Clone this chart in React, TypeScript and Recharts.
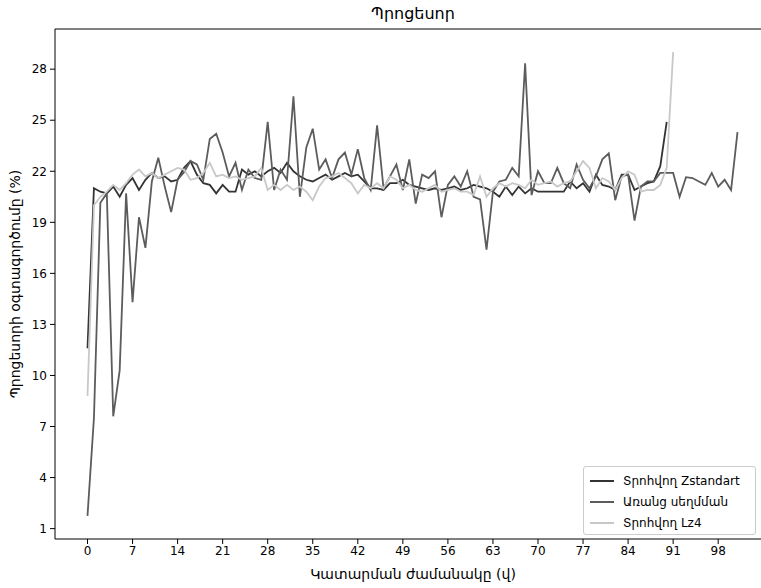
import { Line, LineChart, ReferenceLine, XAxis, YAxis } from "recharts";

// CPU usage per second
const zstdSeries = [
  11.6, 21.0, 20.8, 20.7, 21.1, 20.5, 21.2, 21.6, 20.9, 21.5,
  21.9, 21.6, 21.7, 21.4, 21.5, 22.2, 22.6, 21.8, 21.3, 21.2,
  20.7, 21.2, 20.8, 20.8, 22.1, 21.8, 22.0, 21.7, 22.0, 22.2,
  21.9, 22.5, 22.0, 21.7, 21.5, 21.4, 21.6, 21.8, 21.5, 21.7,
  21.9, 21.7, 21.8, 21.4, 21.0, 21.0, 20.9, 21.3, 21.3, 21.5,
  21.2, 21.1, 21.0, 20.9, 21.0, 20.9, 21.0, 21.1, 20.9, 21.0,
  21.2, 21.1, 21.0, 20.8, 20.5, 21.1, 20.6, 21.1, 20.7, 21.0,
  20.8, 20.8, 20.8, 20.8, 20.8, 21.4, 21.0, 21.3, 20.8, 21.8,
  21.2, 21.1, 20.9, 21.8, 21.8, 20.9, 21.1, 21.3, 21.4, 22.3,
  24.9,
];

const plainSeries = [
  1.75, 7.5, 20.15, 20.7, 7.6, 10.3, 20.7, 14.3, 19.3, 17.5,
  21.4, 22.8, 21.1, 19.6, 21.5, 21.95, 22.6, 22.4, 21.5, 23.9,
  24.2, 23.1, 21.7, 22.5, 20.9, 22.1, 21.6, 21.5, 24.9, 20.9,
  22.1, 21.5, 26.4, 20.5, 23.4, 24.5, 22.1, 22.7, 21.6, 22.7,
  23.1, 21.8, 23.3, 21.6, 20.9, 24.7, 21.0, 21.7, 22.4, 20.9,
  22.7, 20.1, 21.8, 21.6, 22.0, 19.3, 21.2, 21.7, 21.1, 22.0,
  20.5, 20.35, 17.4, 20.8, 21.4, 21.5, 22.2, 21.7, 28.35, 20.6,
  22.0, 21.3, 21.3, 22.2, 21.3, 21.0, 22.4, 21.5, 21.0, 21.7,
  22.7, 23.05, 20.3, 21.7, 21.8, 19.1, 21.1, 21.4, 21.4, 21.9,
  21.9, 21.9, 20.5, 21.65, 21.6, 21.4, 21.2, 21.9, 21.1, 21.5,
  20.9, 24.3,
];

const lz4Series = [
  8.8, 20.0, 20.5, 20.8, 21.2, 20.9, 21.3, 21.8, 22.1, 21.7,
  21.9, 21.6, 21.8, 22.0, 22.2, 22.1, 21.5, 21.6, 21.9, 22.5,
  21.7, 21.8, 21.6, 21.7, 21.5, 21.6, 21.7, 22.2, 20.9, 21.2,
  20.9, 21.2, 20.9, 21.1, 20.8, 20.3, 21.1, 21.6, 21.7, 21.9,
  21.6, 21.3, 20.7, 21.2, 21.0, 21.3, 21.0, 21.7, 21.5, 21.0,
  21.2, 20.9, 20.8, 21.0, 21.2, 20.8, 20.9, 21.0, 20.8, 20.8,
  20.6, 21.7, 20.5, 21.0, 21.3, 21.1, 21.3, 21.2, 21.0, 21.5,
  21.2, 21.3, 21.4, 21.1, 21.3, 21.4, 22.0, 22.6, 22.2, 21.0,
  21.6, 21.4, 20.9, 21.6, 22.0, 21.8, 20.8, 20.9, 20.9, 21.2,
  22.2, 29.0,
];

const xTicks = [0, 7, 14, 21, 28, 35, 42, 49, 56, 63, 70, 77, 84, 91, 98];
const yTicks = [1, 4, 7, 10, 13, 16, 19, 22, 25, 28];

const seriesNames = ["Տրոհվող Zstandart", "Առանց սեղմման", "Տրոհվող Lz4"];
const seriesColors = ["#333333", "#5c5c5c", "#c8c8c8"];

const rows = plainSeries.map((v, i) => ({
  t: i,
  zstd: zstdSeries[i],
  plain: v,
  lz4: lz4Series[i],
}));

const font = "'DejaVu Sans', sans-serif";
const yMax = 30.36;

function LegendBox() {
  return (
    <div
      style={{
        position: "absolute",
        left: 583,
        top: 466,
        width: 173,
        height: 69,
        border: "1px solid #cccccc",
        borderRadius: 3,
        background: "rgba(255,255,255,0.8)",
        fontFamily: font,
        fontSize: 12,
        color: "#000",
        boxSizing: "border-box",
        paddingTop: 3,
      }}
    >
      {seriesNames.map((name, i) => (
        <div key={name} style={{ display: "flex", alignItems: "center", height: 21 }}>
          <div style={{ width: 24, height: 0, borderTop: `2px solid ${seriesColors[i]}`, marginLeft: 6, marginRight: 9 }} />
          <span>{name}</span>
        </div>
      ))}
    </div>
  );
}

export default function App() {
  return (
    <div
      style={{
        position: "absolute",
        left: 0,
        top: 0,
        width: 761,
        height: 588,
        overflow: "hidden",
        background: "#fff",
      }}
    >
      <LineChart
        width={780}
        height={588}
        data={rows}
        margin={{ top: 29, right: 10, left: 0, bottom: 0 }}
      >
        <XAxis
          dataKey="t"
          type="number"
          domain={[-5.05, 106.05]}
          ticks={xTicks}
          allowDataOverflow
          height={49}
          tickSize={5}
          tickMargin={2}
          stroke="#000"
          tick={{ fill: "#000", fontSize: 12, fontFamily: font }}
        />
        <YAxis
          type="number"
          domain={[0.39, yMax]}
          ticks={yTicks}
          allowDataOverflow
          width={55}
          tickSize={5}
          tickMargin={3}
          stroke="#000"
          tick={{ fill: "#000", fontSize: 12, fontFamily: font }}
        />
        <ReferenceLine y={yMax} stroke="#000" strokeWidth={1} />
        <Line dataKey="zstd" name={seriesNames[0]} stroke={seriesColors[0]} strokeWidth={1.8} dot={false} isAnimationActive={false} />
        <Line dataKey="plain" name={seriesNames[1]} stroke={seriesColors[1]} strokeWidth={1.8} dot={false} isAnimationActive={false} />
        <Line dataKey="lz4" name={seriesNames[2]} stroke={seriesColors[2]} strokeWidth={1.8} dot={false} isAnimationActive={false} />
      </LineChart>
      <LegendBox />
      <div style={{ position: "absolute", left: 263, width: 300, top: 4, textAlign: "center", fontFamily: font, fontSize: 16, color: "#000" }}>
        Պրոցեսոր
      </div>
      <div style={{ position: "absolute", left: 213, width: 400, top: 566, textAlign: "center", fontFamily: font, fontSize: 14, color: "#000" }}>
        Կատարման ժամանակը (վ)
      </div>
      <div
        style={{
          position: "absolute",
          left: 15,
          top: 284,
          width: 400,
          textAlign: "center",
          fontFamily: font,
          fontSize: 14,
          color: "#000",
          transform: "translate(-50%, -50%) rotate(-90deg)",
        }}
      >
        Պրոցեսորի օգտագործումը (%)
      </div>
    </div>
  );
}
